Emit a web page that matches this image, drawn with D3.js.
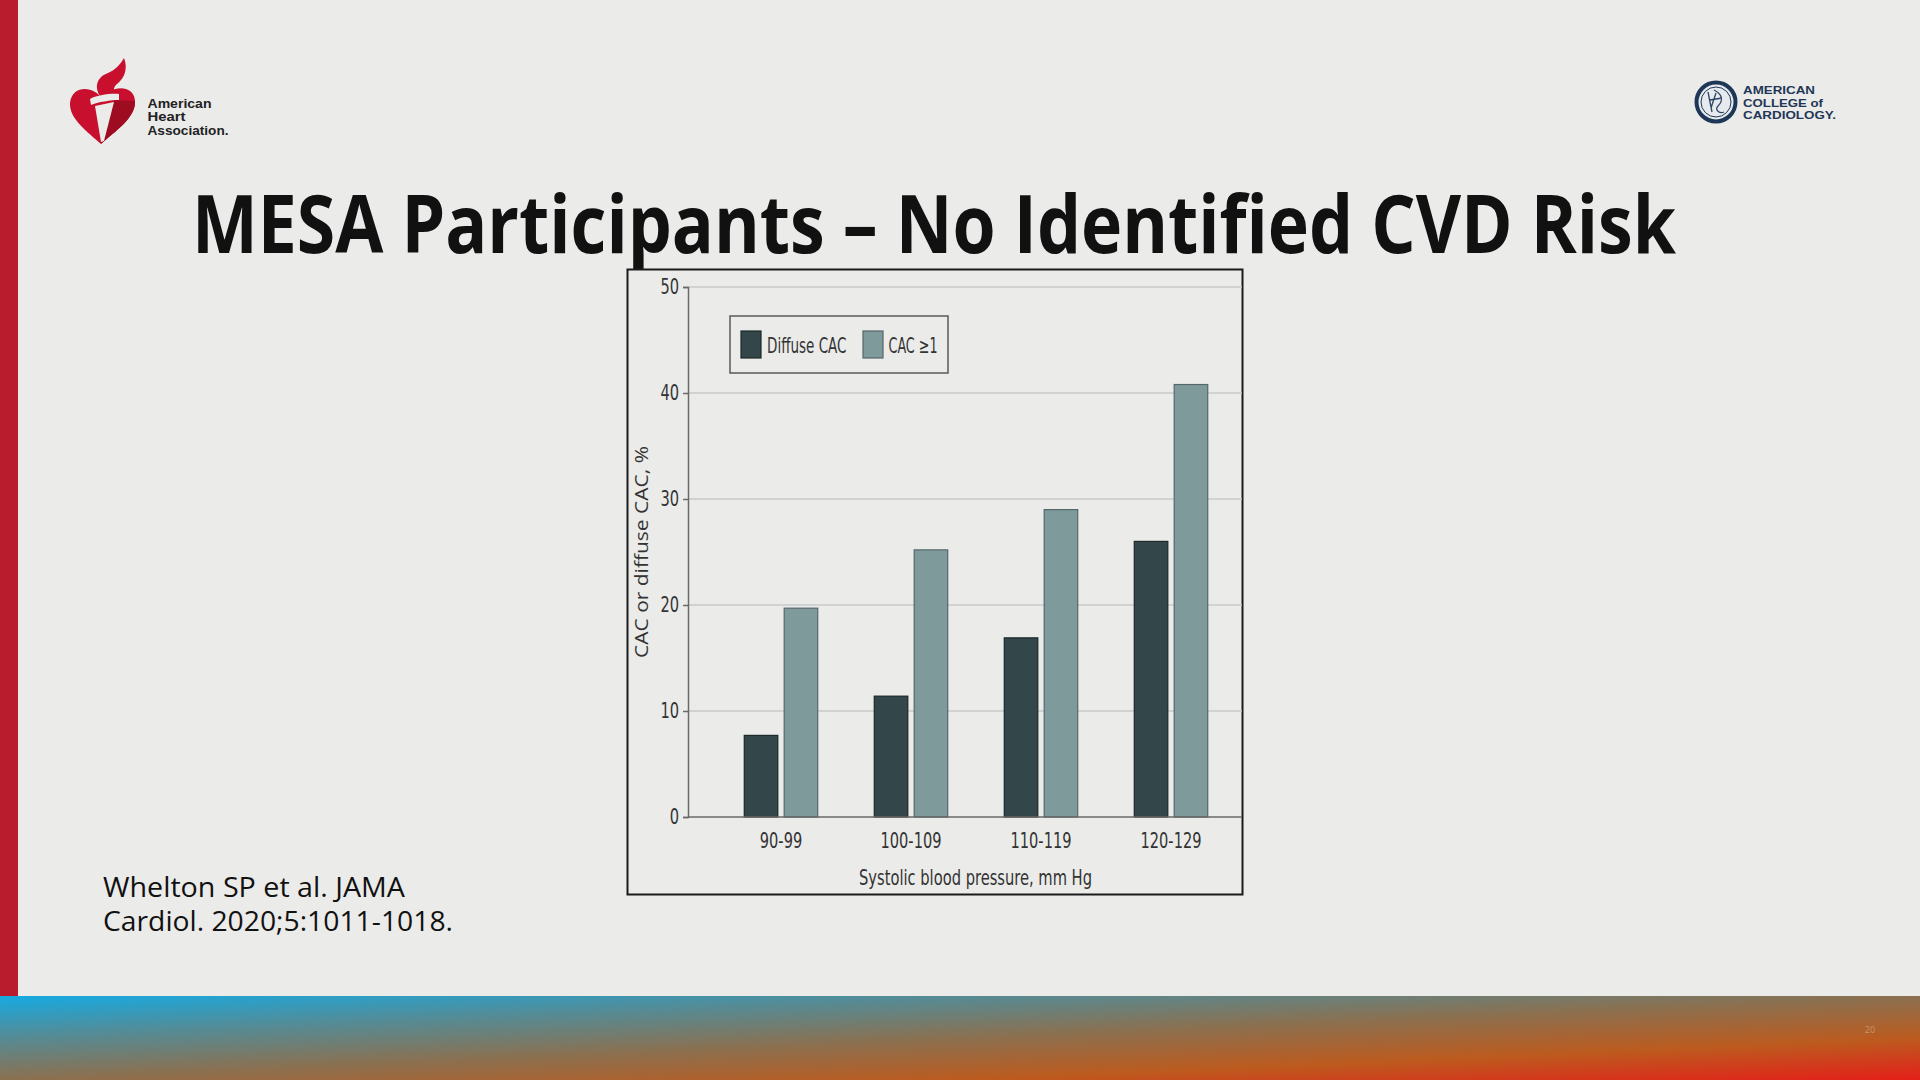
<!DOCTYPE html>
<html>
<head>
<meta charset="utf-8">
<script src="https://cdn.jsdelivr.net/npm/d3@7"></script>
<style>
  html, body { margin: 0; padding: 0; background: #ebebea; overflow: hidden; }
  svg { display: block; }
</style>
</head>
<body>
<svg id="slide" width="1920" height="1080"></svg>
<script>
// ---------- data ----------
const categories = ["90-99", "100-109", "110-119", "120-129"];
const seriesNames = ["Diffuse CAC", "CAC \u22651"];
const diffuseCAC = [7.7, 11.4, 16.9, 26.0];
const cacAtLeast1 = [19.7, 25.2, 29.0, 40.8];
const yTickValues = [0, 10, 20, 30, 40, 50];
const titleText = "MESA Participants \u2013 No Identified CVD Risk";
const citationLines = ["Whelton SP et al. JAMA", "Cardiol. 2020;5:1011-1018."];
const yAxisTitle = "CAC or diffuse CAC, %";
const xAxisTitle = "Systolic blood pressure, mm Hg";

// ---------- layout ----------
const W = 1920, H = 1080;
const plot = { left: 688, right: 1242, top: 287, bottom: 817 };
const frame = { x: 627.5, y: 269.5, w: 615, h: 625 };
const colors = { dark: "#33474a", darkStroke: "#1c2829", light: "#7f9a9b", lightStroke: "#566768" };
const condensed = "'Liberation Sans Narrow', 'Arial Narrow', 'DejaVu Sans Condensed', 'Roboto Condensed', sans-serif";

const svg = d3.select("#slide");

// background
svg.append("rect").attr("width", W).attr("height", H).attr("fill", "#ebebea");

// left red bar
svg.append("rect").attr("x", 0).attr("y", 0).attr("width", 18).attr("height", 996).attr("fill", "#b91c2d");

// bottom gradient band
const defs = svg.append("defs");
const grad = defs.append("linearGradient").attr("id", "band")
  .attr("x1", 0).attr("y1", 0).attr("x2", 1).attr("y2", 1);
[[0, "#16aae2"], [0.25, "#558b95"], [0.5, "#8b7050"], [0.75, "#bc5b1f"], [1, "#e41f19"]]
  .forEach(([o, c]) => grad.append("stop").attr("offset", o).attr("stop-color", c));
svg.append("rect").attr("x", 0).attr("y", 996).attr("width", W).attr("height", 84).attr("fill", "url(#band)");
svg.append("text").attr("x", 1870).attr("y", 1033).attr("text-anchor", "middle")
  .attr("font-family", "'Open Sans', sans-serif").attr("font-size", 9).attr("fill", "#c9946c").text("20");

// ---------- AHA logo ----------
const aha = svg.append("g");
aha.append("path").attr("fill", "#c8102e")
  .attr("d", "M102,99 C95,86 72,84 70,103 C69,119 88,132 101,144 C114,132 136,118 135,101 C134,84 110,85 102,99 Z");
aha.append("path").attr("fill", "#9e0c22")
  .attr("d", "M114,100 L135,101 C136,118 114,132 101,144 Z");
aha.append("path").attr("fill", "#c8102e")
  .attr("d", "M100,96 C93,85 99,76 108,73 C115,70 120,65 124,58 C128,68 125,78 117,84 C112,88 115,92 113,95 Z");
aha.append("path").attr("fill", "#ebebea")
  .attr("d", "M90,99 C96,95 112,93 119,94 L119,100 C112,100 97,102 91,105 Z");
aha.append("path").attr("fill", "#ebebea")
  .attr("d", "M95,106 L114,102 L104,141 L101,142 Z");
const ahaText = ["American", "Heart", "Association."];
const ahaWidths = [64, 38, 81];
ahaText.forEach((t, i) => {
  aha.append("text").attr("x", 147.5).attr("y", 107.5 + i * 13.5)
    .attr("font-family", "'Liberation Sans', Arial, sans-serif").attr("font-weight", 700)
    .attr("font-size", 12.5).attr("fill", "#222")
    .attr("textLength", ahaWidths[i]).attr("lengthAdjust", "spacingAndGlyphs").text(t);
});

// ---------- ACC logo ----------
const acc = svg.append("g");
acc.append("circle").attr("cx", 1716).attr("cy", 102).attr("r", 19.5)
  .attr("fill", "#e6eaee").attr("stroke", "#1f3756").attr("stroke-width", 4);
acc.append("circle").attr("cx", 1716).attr("cy", 102).attr("r", 15)
  .attr("fill", "none").attr("stroke", "#1f3756").attr("stroke-width", 1);
acc.append("path").attr("fill", "none").attr("stroke", "#2c4565").attr("stroke-width", 1.3)
  .attr("d", "M1708,92 L1712,112 M1714,90 C1722,94 1724,100 1718,106 C1714,110 1720,114 1724,112 M1710,100 L1722,98 M1716,93 L1711,108");
const accText = ["AMERICAN", "COLLEGE of", "CARDIOLOGY."];
const accWidths = [72, 80, 93];
accText.forEach((t, i) => {
  acc.append("text").attr("x", 1743).attr("y", 94 + i * 12.7)
    .attr("font-family", "'Liberation Sans', Arial, sans-serif").attr("font-weight", 700)
    .attr("font-size", 11).attr("fill", "#1f3756")
    .attr("textLength", accWidths[i]).attr("lengthAdjust", "spacingAndGlyphs").text(t);
});

// ---------- title ----------
svg.append("text").attr("x", 192).attr("y", 253)
  .attr("font-family", "'Open Sans', sans-serif").attr("font-weight", 700)
  .attr("font-size", 80).attr("fill", "#111")
  .attr("textLength", 1484).attr("lengthAdjust", "spacingAndGlyphs")
  .text(titleText);

// ---------- citation ----------
const citeWidths = [302, 350];
citationLines.forEach((t, i) => {
  svg.append("text").attr("x", 103).attr("y", 896.5 + i * 34.5)
    .attr("font-family", "'Open Sans', sans-serif").attr("font-size", 27).attr("fill", "#111")
    .attr("textLength", citeWidths[i]).attr("lengthAdjust", "spacingAndGlyphs")
    .text(t);
});

// ---------- chart ----------
const chart = svg.append("g");
chart.append("rect").attr("x", frame.x).attr("y", frame.y).attr("width", frame.w).attr("height", frame.h)
  .attr("fill", "#ebebea").attr("stroke", "#1a1a1a").attr("stroke-width", 2);

const y = d3.scaleLinear().domain([0, 50]).range([plot.bottom, plot.top]);
const x0 = d3.scaleBand().domain(categories).range([716, 1236]).paddingInner(0.435).paddingOuter(0.2175);
const x1 = d3.scaleBand().domain(seriesNames).range([0, x0.bandwidth()]).paddingInner(0.16);

// gridlines
chart.append("g").selectAll("line").data(yTickValues.filter(v => v > 0)).join("line")
  .attr("x1", plot.left).attr("x2", plot.right)
  .attr("y1", d => y(d)).attr("y2", d => y(d))
  .attr("stroke", "#cacaca").attr("stroke-width", 1.5);

// y axis
const yAxis = chart.append("g").attr("transform", `translate(${plot.left},0)`)
  .call(d3.axisLeft(y).tickValues(yTickValues).tickSize(5).tickPadding(4));
yAxis.select(".domain").attr("stroke", "#6a6a6a").attr("stroke-width", 1.5);
yAxis.selectAll(".tick line").attr("stroke", "#6a6a6a").attr("stroke-width", 1.5);
yAxis.selectAll(".tick text").attr("font-family", condensed).attr("font-size", 21).attr("fill", "#333");

// bars
const rows = categories.map((c, i) => ({ cat: c, vals: [diffuseCAC[i], cacAtLeast1[i]] }));
const groups = chart.append("g").selectAll("g").data(rows).join("g")
  .attr("transform", d => `translate(${x0(d.cat)},0)`);
groups.selectAll("rect").data(d => d.vals.map((v, j) => ({ s: seriesNames[j], v, j }))).join("rect")
  .attr("x", d => x1(d.s)).attr("width", x1.bandwidth())
  .attr("y", d => y(d.v)).attr("height", d => y(0) - y(d.v))
  .attr("fill", d => d.j === 0 ? colors.dark : colors.light)
  .attr("stroke", d => d.j === 0 ? colors.darkStroke : colors.lightStroke)
  .attr("stroke-width", 1.2);

// zero baseline
chart.append("line").attr("x1", plot.left).attr("x2", plot.right)
  .attr("y1", y(0)).attr("y2", y(0)).attr("stroke", "#6a6a6a").attr("stroke-width", 1.5);

// x axis labels
const xAxis = chart.append("g").attr("transform", `translate(0,${plot.bottom})`)
  .call(d3.axisBottom(x0).tickSize(0).tickPadding(16));
xAxis.select(".domain").remove();
xAxis.selectAll(".tick text").attr("font-family", condensed).attr("font-size", 21).attr("fill", "#333");

// condense tick labels to match the narrow face of the original
const refNode = xAxis.selectAll(".tick text").filter(d => d === "100-109").node();
const squeeze = refNode ? Math.min(1, 61 / refNode.getComputedTextLength()) : 1;
[xAxis, yAxis].forEach(ax => ax.selectAll(".tick text").each(function () {
  const w = this.getComputedTextLength() * squeeze;
  d3.select(this).attr("textLength", w).attr("lengthAdjust", "spacingAndGlyphs");
}));

// axis titles
chart.append("text").attr("x", 975.5).attr("y", 885).attr("text-anchor", "middle")
  .attr("font-family", condensed).attr("font-size", 21).attr("fill", "#333")
  .attr("textLength", 233).attr("lengthAdjust", "spacingAndGlyphs").text(xAxisTitle);
chart.append("text").attr("transform", "translate(647.5,552) rotate(-90)").attr("text-anchor", "middle")
  .attr("font-family", "'Open Sans', sans-serif").attr("font-size", 18).attr("fill", "#333")
  .attr("textLength", 212).attr("lengthAdjust", "spacingAndGlyphs").text(yAxisTitle);

// legend
const legend = chart.append("g");
legend.append("rect").attr("x", 730).attr("y", 316).attr("width", 218).attr("height", 57)
  .attr("fill", "none").attr("stroke", "#5a5a5a").attr("stroke-width", 1.5);
const legendItems = [
  { name: seriesNames[0], sx: 741, tx: 767, tw: 79.5, fill: colors.dark, stroke: colors.darkStroke },
  { name: seriesNames[1], sx: 863, tx: 888.5, tw: 49, fill: colors.light, stroke: colors.lightStroke }
];
legendItems.forEach(it => {
  legend.append("rect").attr("x", it.sx).attr("y", 331).attr("width", 20).attr("height", 27)
    .attr("fill", it.fill).attr("stroke", it.stroke).attr("stroke-width", 1.2);
  legend.append("text").attr("x", it.tx).attr("y", 353)
    .attr("font-family", condensed).attr("font-size", 21).attr("fill", "#333")
    .attr("textLength", it.tw).attr("lengthAdjust", "spacingAndGlyphs").text(it.name);
});
</script>
</body>
</html>
